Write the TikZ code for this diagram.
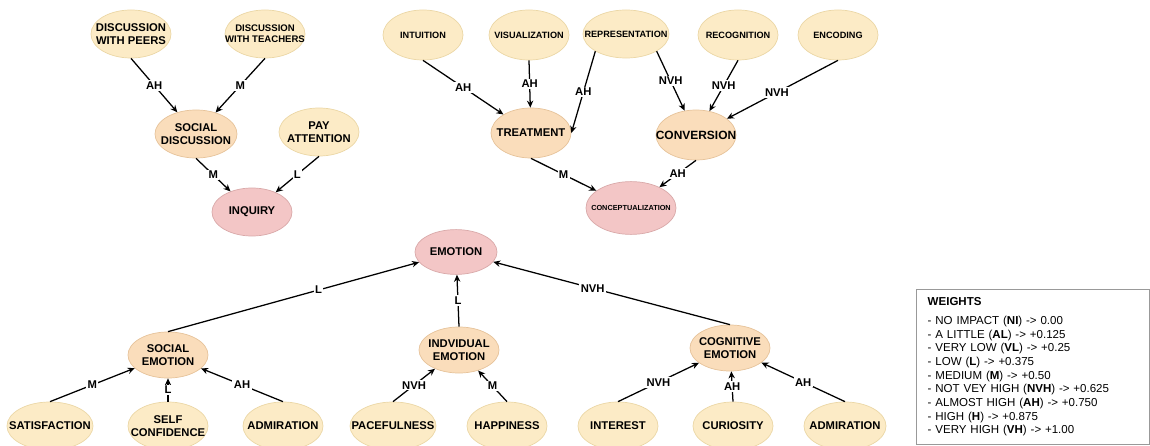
\documentclass[tikz,border=0pt]{standalone}
\usepackage{fontspec}
\setmainfont{Liberation Sans}
\usetikzlibrary{shapes.geometric, arrows.meta}
\definecolor{leafcol}{HTML}{FCEBC6}
\definecolor{leafline}{HTML}{EBD7A6}
\definecolor{midcol}{HTML}{FADDBB}
\definecolor{midline}{HTML}{E6C39A}
\definecolor{goalcol}{HTML}{F3C6C6}
\definecolor{goalline}{HTML}{D9A9A9}

\begin{document}
\begin{tikzpicture}[x=0.025cm, y=-0.025cm,
     every node/.style={ellipse, inner xsep=-10pt, inner ysep=-4pt, minimum width=2cm, minimum height=1.2cm,
       align=center, line width=0.5pt, font=\bfseries\fontsize{8}{9.4}\selectfont},
     leafnode/.style={draw=leafline, fill=leafcol},
     midnode/.style={draw=midline, fill=midcol},
     goalnode/.style={draw=goalline, fill=goalcol},
     smalltext/.style={font=\bfseries\fontsize{6.5}{7.8}\selectfont},
     wlabel/.style={rectangle, fill=white, inner sep=1pt, minimum size=0pt, font=\bfseries\fontsize{8}{8}\selectfont},
     link/.style={-{Stealth[length=5pt, width=4.5pt]}, line width=0.9pt}]
     \useasboundingbox (0,0) rectangle (1150,446);

     % inquiry
     \node[leafnode] (peers) at (131,34) {DISCUSSION\\WITH PEERS};
     \node[leafnode, font=\bfseries\fontsize{6.8}{8}\selectfont] (teachers) at (265,34) {DISCUSSION\\WITH TEACHERS};
     \node[midnode, minimum width=2.05cm] (socdisc) at (196,134) {SOCIAL\\DISCUSSION};
     \node[leafnode] (payatt) at (319,132) {PAY\\ATTENTION};
     \node[goalnode] (inquiry) at (252,212) {INQUIRY};

     \draw[link] (peers.south) -- node[wlabel] {AH} (socdisc);
     \draw[link] (teachers.south) -- node[wlabel] {M} (socdisc);
     \draw[link] (socdisc.south) -- node[wlabel] {M} (inquiry);
     \draw[link] (payatt.south) -- node[wlabel] {L} (inquiry);

     % conceptualization
     \node[leafnode, smalltext, minimum height=1.25cm] (intuition) at (423,35) {INTUITION};
     \node[leafnode, smalltext, minimum height=1.25cm] (visual) at (529,35) {VISUALIZATION};
     \node[leafnode, smalltext, minimum width=2.15cm] (repres) at (626,34) {REPRESENTATION};
     \node[leafnode, smalltext, minimum height=1.25cm] (recog) at (738,35) {RECOGNITION};
     \node[leafnode, smalltext, minimum height=1.25cm] (encoding) at (838,35) {ENCODING};
     \node[midnode, minimum height=1.25cm] (treatment) at (531,133) {TREATMENT};
     \node[midnode, minimum height=1.25cm, font=\bfseries\fontsize{8.5}{10}\selectfont] (conversion) at (696,135) {CONVERSION};
     \node[goalnode, minimum width=2.25cm, minimum height=1.32cm, font=\bfseries\fontsize{5.2}{6}\selectfont] (concept) at (631,208) {CONCEPTUALIZATION};

     \draw[link] (intuition.south) -- node[wlabel] {AH} (treatment);
     \draw[link] (visual.south) -- node[wlabel] {AH} (treatment);
     \draw[link] (repres.south west) -- node[wlabel] {AH} (treatment.east);
     \draw[link] (repres.south east) -- node[wlabel] {NVH} (conversion);
     \draw[link] (recog.south) -- node[wlabel] {NVH} (conversion);
     \draw[link] (encoding.south) -- node[wlabel, pos=0.55] {NVH} (conversion);
     \draw[link] (treatment.south) -- node[wlabel] {M} (concept);
     \draw[link] (conversion.south) -- node[wlabel] {AH} (concept);

     % emotion
     \node[goalnode, minimum width=2.05cm, minimum height=1.12cm] (emotion) at (456,252) {EMOTION};
     \node[midnode, minimum height=1.15cm] (socemo) at (168,355) {SOCIAL\\EMOTION};
     \node[midnode, minimum height=1.15cm] (indemo) at (459,350) {INDVIDUAL\\EMOTION};
     \node[midnode, minimum height=1.15cm] (cogemo) at (730,348) {COGNITIVE\\EMOTION};

     \node[leafnode, minimum width=2.15cm] (satisf) at (50,426) {SATISFACTION};
     \node[leafnode] (selfconf) at (168,426) {SELF\\CONFIDENCE};
     \node[leafnode] (admir) at (283,426) {ADMIRATION};
     \node[leafnode, minimum width=2.15cm] (paceful) at (393,426) {PACEFULNESS};
     \node[leafnode] (happy) at (507,426) {HAPPINESS};
     \node[leafnode] (interest) at (618,426) {INTEREST};
     \node[leafnode] (curios) at (733,426) {CURIOSITY};
     \node[leafnode, minimum width=2.05cm] (admirtwo) at (845,426) {ADMIRATION};

     \draw[link] (socemo.north) -- node[wlabel, pos=0.6] {L} (emotion);
     \draw[link] (indemo.north) -- node[wlabel] {L} (emotion);
     \draw[link] (cogemo.north) -- node[wlabel, pos=0.58] {NVH} (emotion);
     \draw[link] (satisf.north) -- node[wlabel] {M} (socemo);
     \draw[link] (selfconf.north) -- node[wlabel] {L} (socemo);
     \draw[link] (admir.north) -- node[wlabel] {AH} (socemo);
     \draw[link] (paceful.north) -- node[wlabel] {NVH} (indemo);
     \draw[link] (happy.north) -- node[wlabel] {M} (indemo);
     \draw[link] (interest.north) -- node[wlabel] {NVH} (cogemo);
     \draw[link] (curios.north) -- node[wlabel] {AH} (cogemo);
     \draw[link] (admirtwo.north) -- node[wlabel] {AH} (cogemo);

     % legend
     \node[rectangle, draw=gray!80, line width=0.6pt, anchor=north west, minimum width=5.825cm, minimum height=3.875cm,
       text width=5.26cm, inner xsep=8pt, inner ysep=4pt, align=left, font=\fontsize{8.2}{9.7}\selectfont] (weights) at (916,289)
       {\textbf{WEIGHTS}\\[3.7pt]
        - NO IMPACT (\textbf{NI}) -> 0.00\\
        - A LITTLE (\textbf{AL}) -> +0.125\\
        - VERY LOW (\textbf{VL}) -> +0.25\\
        - LOW (\textbf{L}) -> +0.375\\
        - MEDIUM (\textbf{M}) -> +0.50\\
        - NOT VEY HIGH (\textbf{NVH}) -> +0.625\\
        - ALMOST HIGH (\textbf{AH}) -> +0.750\\
        - HIGH (\textbf{H}) -> +0.875\\
        - VERY HIGH (\textbf{VH}) -> +1.00};
 \end{tikzpicture}
\end{document}
